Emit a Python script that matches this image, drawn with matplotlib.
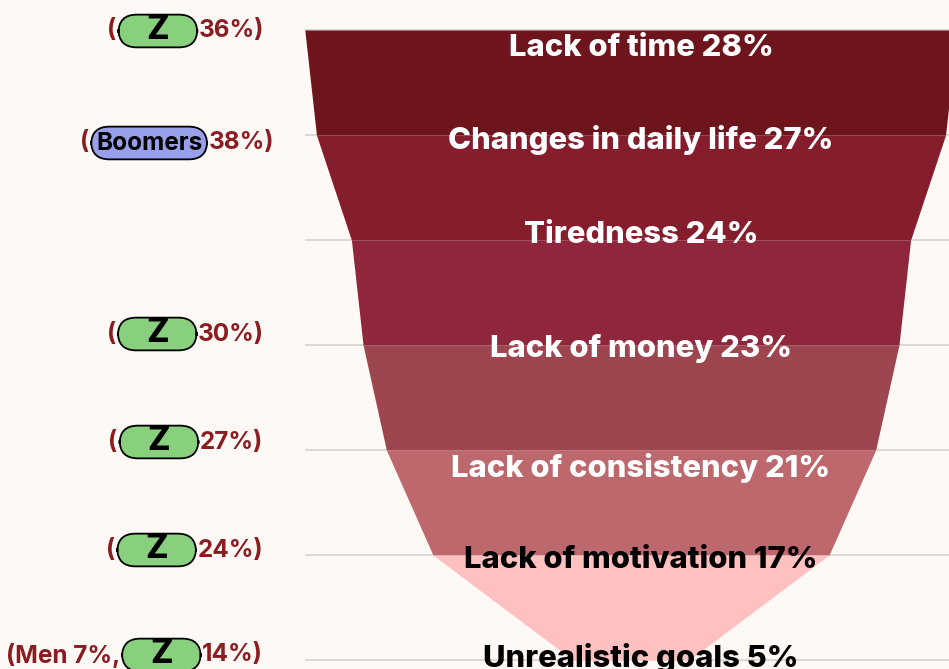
import matplotlib.pyplot as plt
from matplotlib.transforms import offset_copy, blended_transform_factory

# ---------------- data ----------------
reasons = ["Lack of time", "Changes in daily life", "Tiredness", "Lack of money",
           "Lack of consistency", "Lack of motivation", "Unrealistic goals"]
shares = [28, 27, 24, 23, 21, 17, 5]

# generation / gender call-outs on the left (None = no call-out)
note_prefix = ["", "", None, "", "", "", "Men 7%,"]
note_group = ["Z", "Boomers", None, "Z", "Z", "Z", "Z"]
note_share = [36, 38, None, 30, 27, 24, 14]

# ---------------- style ----------------
BG = "#fff9f5"
RED_TXT = "#8a1c22"
band_colors = ["#6d141d", "#851d2d", "#8f263b", "#9e464f", "#bd686c", "#ffc0c0"]
label_colors = ["white", "white", "white", "white", "white", "black", "black"]
pill_colors = {"Z": "#88cf7e", "Boomers": "#98a0ec"}
FONT = "Inter"

W, H, DPI = 949, 669, 100
CENTER_PX = 631      # funnel axis, in pixels
PX_PER_UNIT = 23.3   # pixels per percentage point of width
TOP_PX, STEP_PX = 30, 105

# small vertical nudges (pixels, + = down)
label_dy = [18, 5, -5, 3, 18, 5, -2]
note_dy = [1, 8, 0, -11, -8, -5, -5]
note_right_px = [264, 274, 264, 264, 263, 263, 263]

plt.rcParams["font.family"] = [FONT, "DejaVu Sans"]

fig = plt.figure(figsize=(W / DPI, H / DPI), dpi=DPI, facecolor=BG)
ax = fig.add_axes([0, 0, 1, 1])
ax.set_facecolor(BG)
ax.set_xlim(-CENTER_PX / PX_PER_UNIT, (W - CENTER_PX) / PX_PER_UNIT)
ax.set_ylim(len(shares) - 1 + (H - TOP_PX - STEP_PX * (len(shares) - 1)) / STEP_PX,
            -TOP_PX / STEP_PX)
ax.axis("off")

n = len(shares)
ys = list(range(n))

# gridlines
ax.hlines(ys, -max(shares) / 2, ax.get_xlim()[1], color="#d8d3d0", lw=1.2, zorder=0)

# funnel bands
for i in range(n - 1):
    ax.fill_betweenx([ys[i], ys[i + 1]],
                     [-shares[i] / 2, -shares[i + 1] / 2],
                     [shares[i] / 2, shares[i + 1] / 2],
                     color=band_colors[i], lw=0, zorder=1)

px = 72 / DPI  # points per pixel

# labels
for i in range(n):
    tr = offset_copy(ax.transData, fig, x=10 * px, y=-label_dy[i] * px, units="points")
    ax.text(0, ys[i], f"{reasons[i]} {shares[i]}%", transform=tr,
            ha="center", va="center", fontsize=22.3, fontweight="heavy",
            color=label_colors[i], zorder=3)

# left call-outs
NOTE_FS = 17.5
blend = blended_transform_factory(ax.transAxes, ax.transData)
for i in range(n):
    if note_group[i] is None:
        continue
    tr = offset_copy(blend, fig, x=0, y=-note_dy[i] * px, units="points")
    t_share = ax.text(note_right_px[i] / W, ys[i], f"{note_share[i]}%)", transform=tr,
                      ha="right", va="center", fontsize=NOTE_FS, fontweight="bold",
                      color=RED_TXT)
    grp = note_group[i]
    pill_txt = "Boomers" if grp == "Boomers" else " " * 12
    pill = ax.annotate(pill_txt, xy=(0, 0.5), xycoords=t_share,
                       xytext=(-4.5, 0), textcoords="offset points",
                       ha="right", va="center", fontsize=NOTE_FS, fontweight="bold",
                       color="black",
                       bbox=dict(boxstyle="round,pad=0.2,rounding_size=0.75",
                                 fc=pill_colors[grp], ec="black", lw=1.3))
    if grp == "Z":
        ax.annotate("Z", xy=(0.5, 0.55), xycoords=pill, ha="center", va="center",
                    fontsize=24, fontweight="heavy", color="black")
    ax.annotate("(" + note_prefix[i], xy=(0, 0.5), xycoords=pill,
                xytext=(-5, 0), textcoords="offset points",
                ha="right", va="center", fontsize=NOTE_FS, fontweight="bold",
                color=RED_TXT)

fig.savefig("out.png", dpi=DPI, facecolor=BG)
